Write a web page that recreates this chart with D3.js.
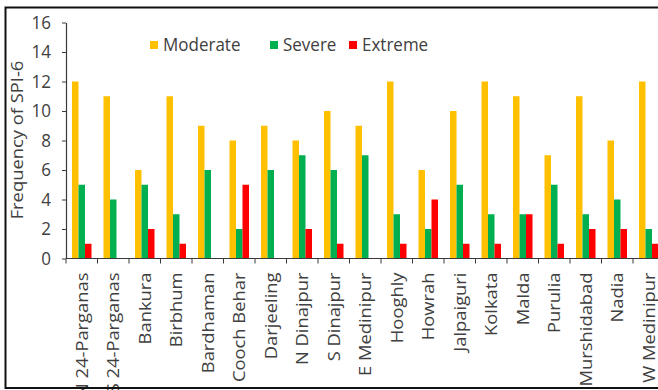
<!DOCTYPE html>
<html>
<head>
<meta charset="utf-8">
<script src="https://cdn.jsdelivr.net/npm/d3@7"></script>
<style>
  html, body { margin: 0; padding: 0; background: #fff; }
  svg { display: block; font-family: "Open Sans", "DejaVu Sans", sans-serif; }
</style>
</head>
<body>
<svg id="chart" width="658" height="390"></svg>
<script>
// Districts of West Bengal
const districts = [
  "N 24-Parganas", "S 24-Parganas", "Bankura", "Birbhum", "Bardhaman",
  "Cooch Behar", "Darjeeling", "N Dinajpur", "S Dinajpur", "E Medinipur",
  "Hooghly", "Howrah", "Jalpaiguri", "Kolkata", "Malda", "Purulia",
  "Murshidabad", "Nadia", "W Medinipur"
];

// Frequency of SPI-6 drought events by severity class
const moderate = [12, 11, 6, 11, 9, 8, 9, 8, 10, 9, 12, 6, 10, 12, 11, 7, 11, 8, 12];
const severe   = [5, 4, 5, 3, 6, 2, 6, 7, 6, 7, 3, 2, 5, 3, 3, 5, 3, 4, 2];
const extreme  = [1, 0, 2, 1, 0, 5, 0, 2, 1, 0, 1, 4, 1, 1, 3, 1, 2, 2, 1];

const seriesNames = ["Moderate", "Severe", "Extreme"];
const seriesColors = ["#FFC000", "#00B050", "#FF0000"];
const yTicks = [0, 2, 4, 6, 8, 10, 12, 14, 16];

const seriesValues = [moderate, severe, extreme];
const rows = districts.map((d, i) => ({
  district: d,
  values: seriesNames.map((s, k) => ({ key: s, value: seriesValues[k][i] }))
}));

const svg = d3.select("#chart");
const textColor = "#404040";
const axisColor = "#3a3a3a";
// text in this figure is drawn slightly tall
const stretch = 1.08;

const x0 = d3.scaleBand().domain(districts).range([66, 664.5]).padding(0);
const bw = x0.bandwidth();
const groupW = 19.5;
const x1 = d3.scaleBand().domain(seriesNames)
  .range([(bw - groupW) / 2, (bw + groupW) / 2]).padding(0);
const y = d3.scaleLinear().domain([0, 16]).range([258.5, 22.5]);
const color = d3.scaleOrdinal().domain(seriesNames).range(seriesColors);

// bars
const groups = svg.append("g").selectAll("g")
  .data(rows).join("g")
  .attr("transform", d => `translate(${x0(d.district)},0)`);

groups.selectAll("rect")
  .data(d => d.values).join("rect")
  .attr("x", d => x1(d.key))
  .attr("width", x1.bandwidth())
  .attr("y", d => y(d.value))
  .attr("height", d => y(0) - y(d.value))
  .attr("fill", d => color(d.key));

// y axis
const yAxis = svg.append("g")
  .attr("transform", `translate(${x0.range()[0]},0)`)
  .call(d3.axisLeft(y).tickValues(yTicks).tickSize(4).tickSizeOuter(0).tickPadding(11));
yAxis.select(".domain").attr("stroke", axisColor).attr("stroke-width", 1.2);
yAxis.selectAll(".tick line").attr("stroke", axisColor);
yAxis.selectAll(".tick text")
  .attr("fill", textColor)
  .attr("transform", `scale(1,${stretch})`)
  .style("font-size", "17px")
  .style("font-family", "'Open Sans', sans-serif");

// x axis baseline with ticks between categories
const xAxis = svg.append("g").attr("transform", `translate(0,${y(0)})`);
xAxis.append("line")
  .attr("x1", x0.range()[0]).attr("x2", x0.range()[1])
  .attr("stroke", axisColor).attr("stroke-width", 1.2);
xAxis.selectAll("line.sep")
  .data(districts).join("line")
  .attr("class", "sep")
  .attr("x1", d => x0(d)).attr("x2", d => x0(d))
  .attr("y1", 0).attr("y2", 5)
  .attr("stroke", axisColor);

xAxis.selectAll("text.cat")
  .data(districts).join("text")
  .attr("class", "cat")
  .attr("transform", d => `translate(${x0(d) + bw / 2},${14}) rotate(-90) scale(${stretch},1)`)
  .attr("text-anchor", "end")
  .attr("dy", "0.35em")
  .attr("fill", textColor)
  .style("font-size", "17px")
  .text(d => d);

// y axis title
svg.append("text")
  .attr("transform", `translate(17,${140}) rotate(-90) scale(${stretch},1)`)
  .attr("text-anchor", "middle")
  .attr("dy", "0.35em")
  .attr("fill", textColor)
  .style("font-size", "17px")
  .text("Frequency of SPI-6");

// legend
const legendX = [150, 270, 349];
const legend = svg.append("g").selectAll("g")
  .data(seriesNames).join("g")
  .attr("transform", (d, i) => `translate(${legendX[i]},41)`);
legend.append("rect")
  .attr("width", 8).attr("height", 8)
  .attr("fill", d => color(d));
legend.append("text")
  .attr("transform", `translate(13,4) scale(1,${stretch})`)
  .attr("dy", "0.35em")
  .attr("fill", textColor)
  .style("font-size", "17px")
  .text(d => d);

// outer frame
svg.append("rect")
  .attr("x", 5.5).attr("y", 7.5)
  .attr("width", 700).attr("height", 380.5)
  .attr("fill", "none")
  .attr("stroke", "#111")
  .attr("stroke-width", 2);
</script>
</body>
</html>
